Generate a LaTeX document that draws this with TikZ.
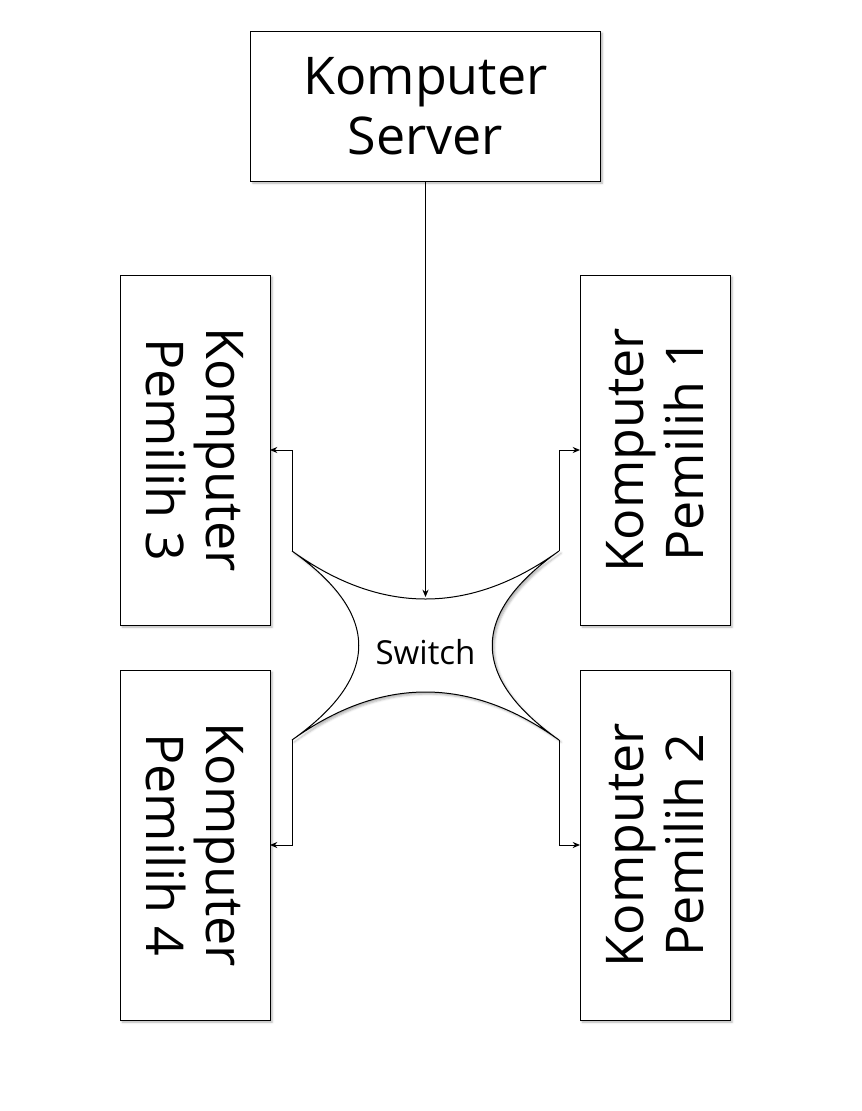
\documentclass[tikz,border=0pt]{standalone}
\usepackage{fontspec}
\setmainfont{Open Sans}
\usetikzlibrary{arrows.meta,shadows.blur}
\begin{document}
\begin{tikzpicture}[x=0.75pt,y=-0.75pt,
  shade/.style={blur shadow={shadow xshift=1.6pt,shadow yshift=-1.6pt,shadow blur radius=1.6pt,shadow opacity=30}},
  box/.style={draw=black,line width=0.75pt,fill=white,inner sep=0pt,outer sep=0pt,
    align=center,font=\fontsize{39}{45}\selectfont,shade},
  hbox/.style={box,minimum width=262pt,minimum height=112.5pt},
  vbox/.style={box,minimum width=262.5pt,minimum height=112.5pt},
  conn/.style={draw=black,line width=0.75pt,-{Stealth[length=5.5pt,width=4.6pt]}}]
\useasboundingbox (0,0) rectangle (861,1111);

\node[hbox] (server) at (425.5,106) {Komputer\\Server};
\node[vbox,rotate=90]  (p1) at (655,450) {Komputer\\Pemilih 1};
\node[vbox,rotate=90]  (p2) at (655,845) {Komputer\\Pemilih 2};
\node[vbox,rotate=-90] (p3) at (195,450) {Komputer\\Pemilih 3};
\node[vbox,rotate=-90] (p4) at (195,845) {Komputer\\Pemilih 4};

% switch shape
\coordinate (swTL) at (292,551);
\coordinate (swTR) at (559,551);
\coordinate (swBL) at (292,740);
\coordinate (swBR) at (559,740);
\coordinate (swTop) at (425.5,597);
\draw[line width=0.75pt,fill=white,shade]
  (swTL) .. controls (381,615) and (470,615) .. (swTR)
         .. controls (470,614) and (470,677) .. (swBR)
         .. controls (470,676) and (381,676) .. (swBL)
         .. controls (381,677) and (381,614) .. cycle;
\node[font=\fontsize{24.8}{29}\selectfont,inner sep=0pt] (sw) at (425.5,652) {Switch};

\draw[conn] (server.south) -- (swTop);
\draw[conn] (swTR) |- (p1.north);
\draw[conn] (swBR) |- (p2.north);
\draw[conn] (swTL) |- (p3.north);
\draw[conn] (swBL) |- (p4.north);
\end{tikzpicture}
\end{document}
